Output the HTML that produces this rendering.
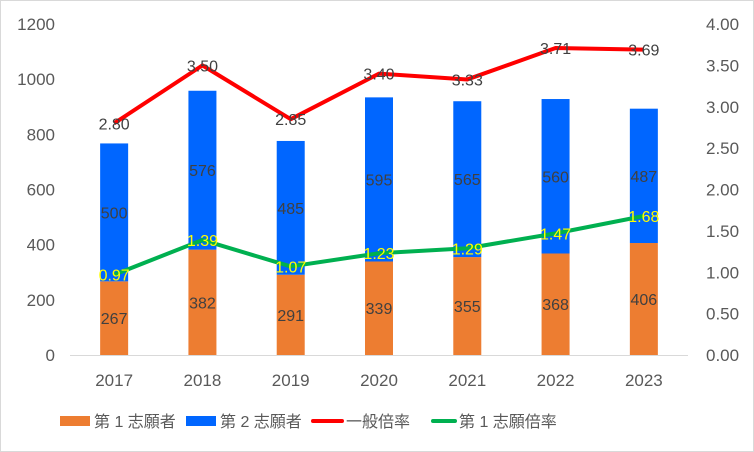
<!DOCTYPE html>
<html><head><meta charset="utf-8"><style>
body{margin:0;background:#fff}
svg{display:block;font-family:"Liberation Sans","Noto Sans CJK JP",sans-serif}
</style></head><body>
<svg id="c" width="754" height="452">
<rect x="0.5" y="0.5" width="753" height="451" fill="#fff" stroke="#d9d9d9"/>
<g id="g"></g>
</svg>
<script>
const categories=["2017","2018","2019","2020","2021","2022","2023"];
const first=[267,382,291,339,355,368,406];
const second=[500,576,485,595,565,560,487];
const general=[2.80,3.50,2.85,3.40,3.33,3.71,3.69];
const firstRate=[0.97,1.39,1.07,1.23,1.29,1.47,1.68];
const leftTicks=[0,200,400,600,800,1000,1200];
const rightTicks=["0.00","0.50","1.00","1.50","2.00","2.50","3.00","3.50","4.00"];
const NS="http://www.w3.org/2000/svg";
const g=document.getElementById('g');
const x0=70,x1=688,yb=355,yt=24;
const xc=i=>x0+(x1-x0)/categories.length*(i+0.5);
const yl=v=>yb-(yb-yt)*v/1200;
const yr=v=>yb-(yb-yt)*v/4;
function el(t,a,txt){const e=document.createElementNS(NS,t);for(const k in a)e.setAttribute(k,a[k]);if(txt!=null)e.textContent=txt;g.appendChild(e);return e;}
leftTicks.forEach(v=>{const e=el('text',{x:55,y:yl(v)+6,'text-anchor':'end','font-size':17,fill:'#595959'},v);

});
rightTicks.forEach(v=>{const e=el('text',{x:706,y:yr(+v)+6,'font-size':17,fill:'#595959'},v);

});
const ax=el('line',{x1:x0,x2:x1,y1:yb+0.5,y2:yb+0.5,stroke:'#d9d9d9'});


const bw=28;
categories.forEach((c,i)=>{
 const cx=xc(i);
 const b1=el('rect',{x:cx-bw/2,y:yl(first[i]),width:bw,height:yb-yl(first[i]),fill:'#ed7d31'});
 
 
 const b2=el('rect',{x:cx-bw/2,y:yl(first[i]+second[i]),width:bw,height:yl(first[i])-yl(first[i]+second[i]),fill:'#0066ff'});
 
 
 const l1=el('text',{x:cx,y:(yb+yl(first[i]))/2+6,'text-anchor':'middle','font-size':16,fill:'#404040'},first[i]);
 
 
 const l2=el('text',{x:cx,y:(yl(first[i])+yl(first[i]+second[i]))/2+6,'text-anchor':'middle','font-size':16,fill:'#404040'},second[i]);
 
 
 const t=el('text',{x:cx,y:yb+31,'text-anchor':'middle','font-size':17,fill:'#595959'},c);
 
 
});
const p1=el('polyline',{points:general.map((v,i)=>xc(i)+','+yr(v)).join(' '),fill:'none',stroke:'#ff0000','stroke-width':4,'stroke-linejoin':'round'});


const p2=el('polyline',{points:firstRate.map((v,i)=>xc(i)+','+yr(v)).join(' '),fill:'none',stroke:'#00b050','stroke-width':4,'stroke-linejoin':'round'});


general.forEach((v,i)=>{const e=el('text',{x:xc(i),y:yr(v)+6,'text-anchor':'middle','font-size':16,fill:'#404040'},v.toFixed(2));

});
firstRate.forEach((v,i)=>{const e=el('text',{x:xc(i),y:yr(v)+6,'text-anchor':'middle','font-size':16,fill:'#ffff00'},v.toFixed(2));

});
const leg=[["rect","#ed7d31",60,94,"第 1 志願者"],["rect","#0066ff",186,220,"第 2 志願者"],["line","#ff0000",311,346,"一般倍率"],["line","#00b050",431,459,"第 1 志願倍率"]];
leg.forEach(l=>{
 let m;
 if(l[0]=="rect") m=el('rect',{x:l[2],y:416,width:30,height:10,fill:l[1]});
 else m=el('line',{x1:l[2]+2,x2:l[3]-4,y1:421,y2:421,stroke:l[1],'stroke-width':4,'stroke-linecap':'round'});
 
 
 const t=el('text',{x:l[3],y:427,'font-size':16,fill:'#595959'},l[4]);
 
 
});
</script>
</body></html>
